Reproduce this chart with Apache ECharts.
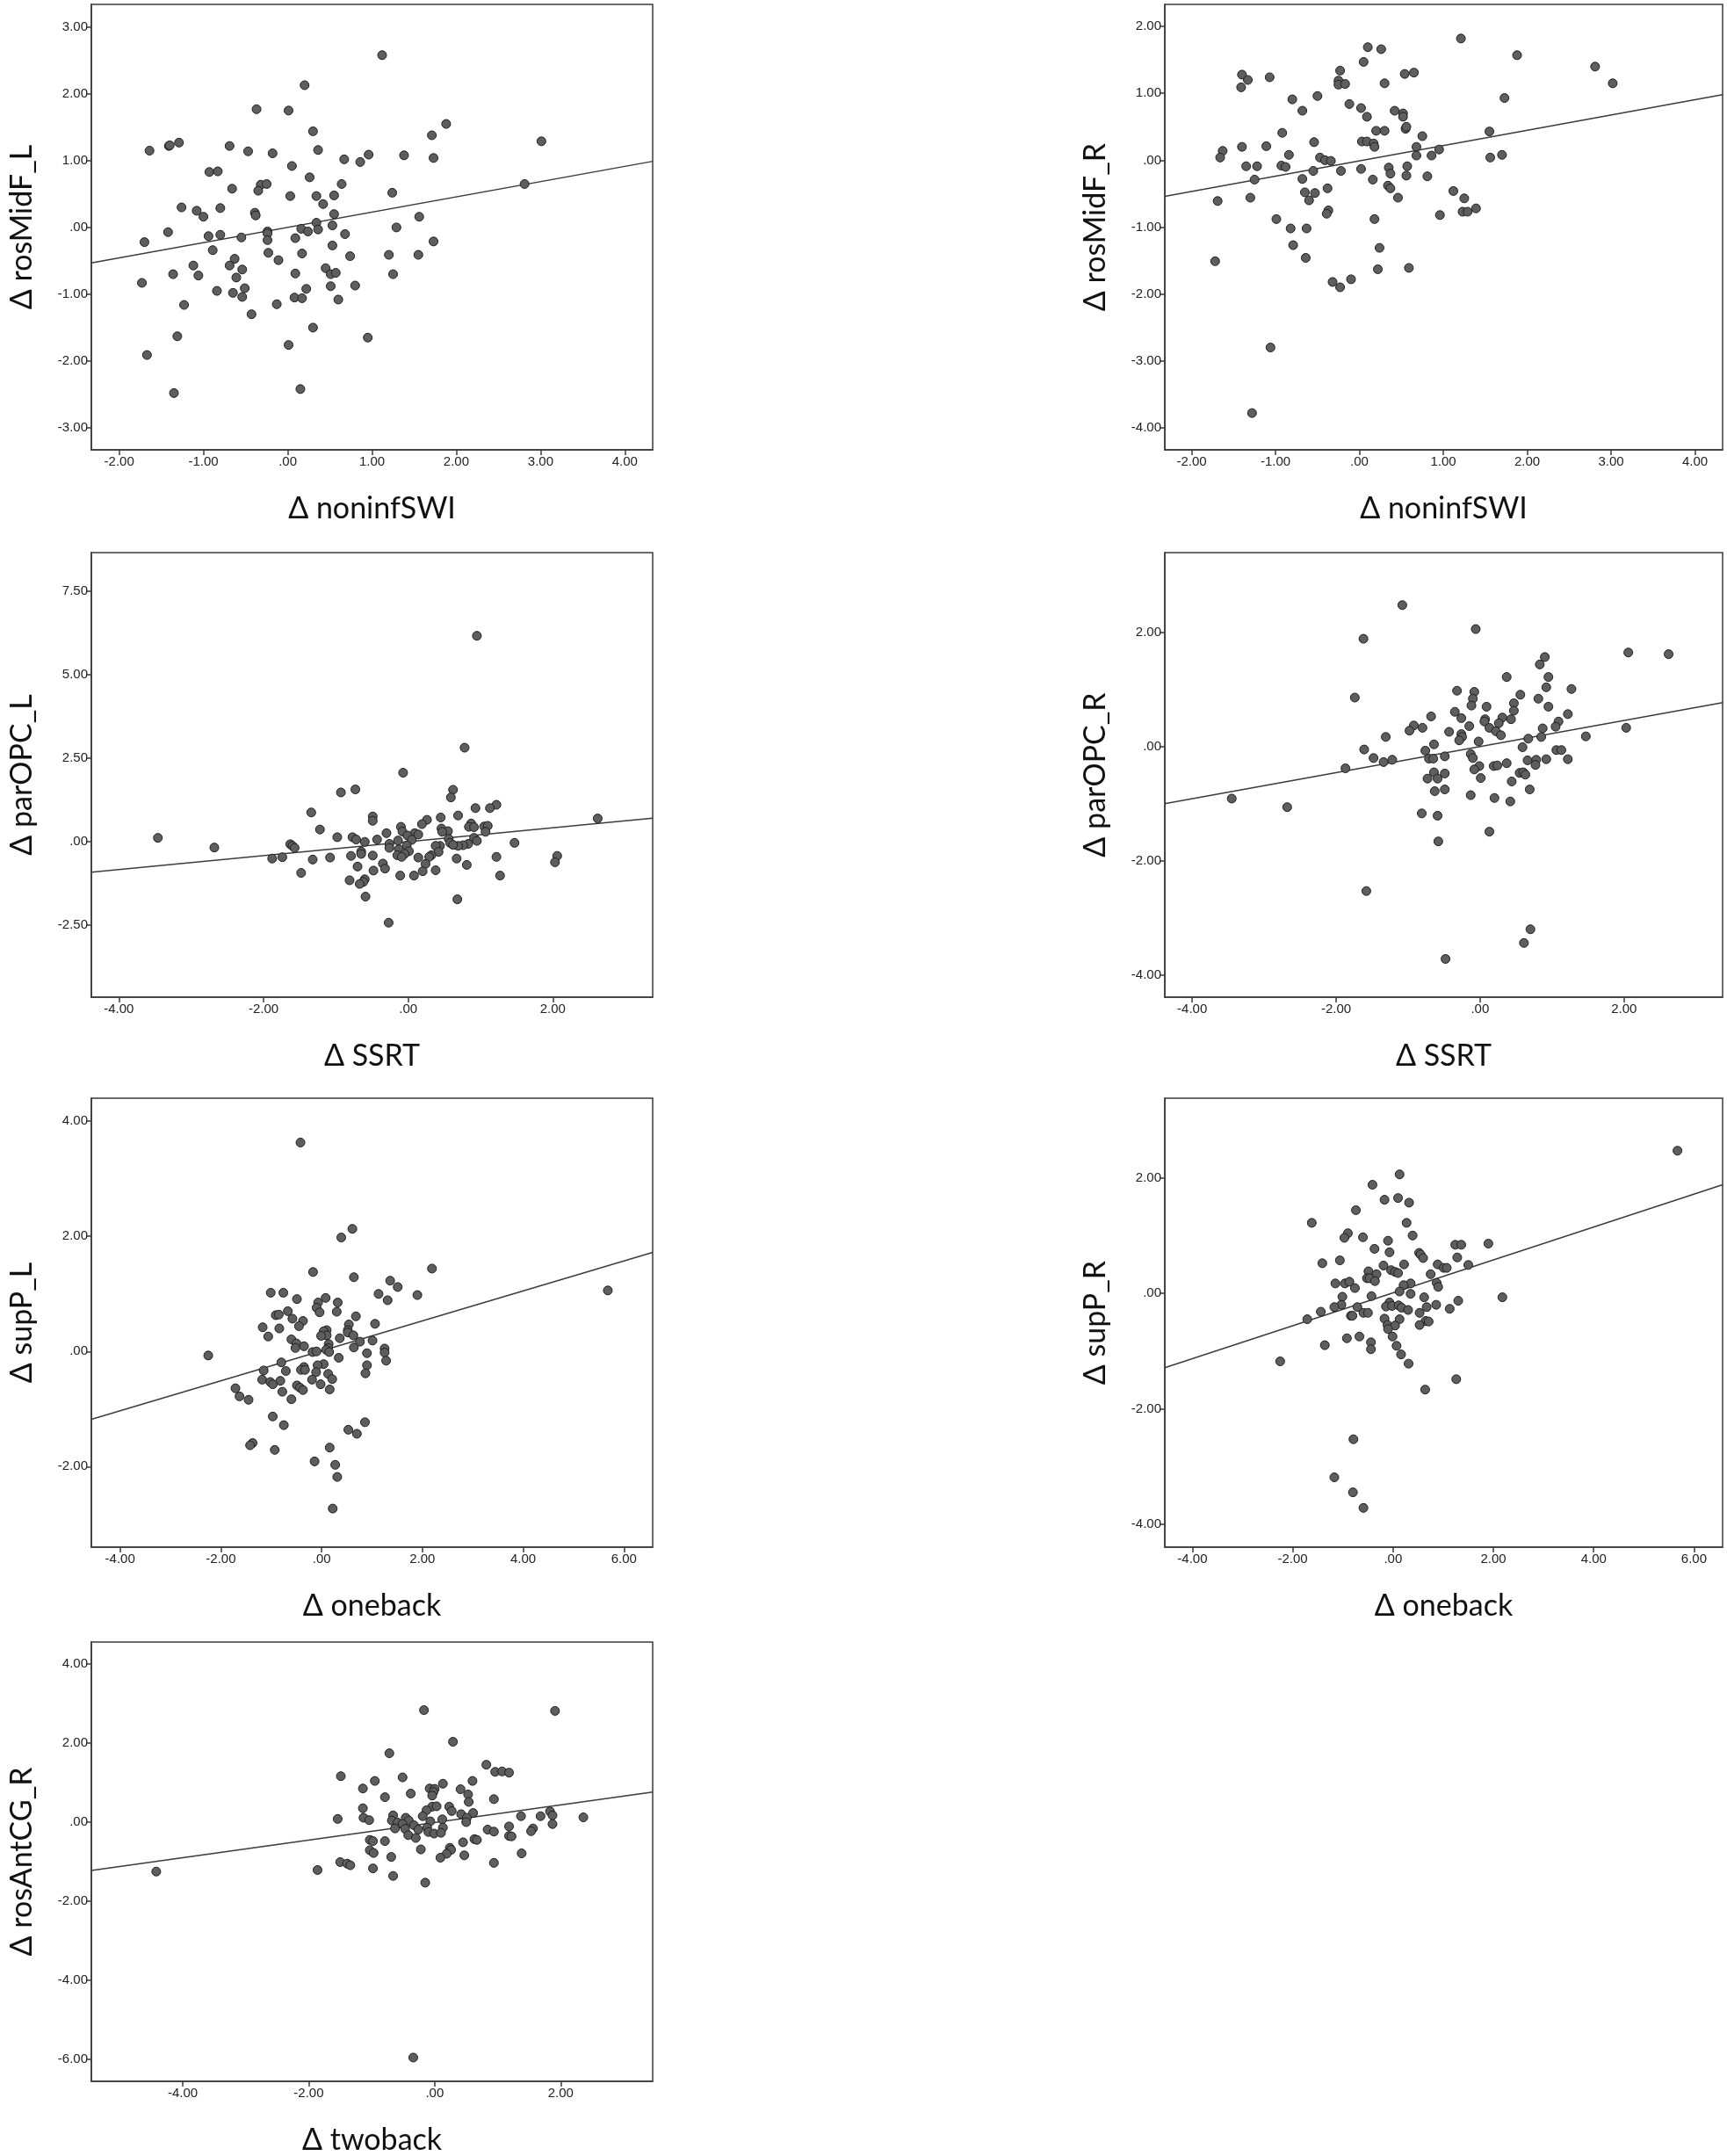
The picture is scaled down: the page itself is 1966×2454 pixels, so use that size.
<!DOCTYPE html>
<html>
<head>
<meta charset="utf-8">
<script src="https://cdn.jsdelivr.net/npm/echarts@6/dist/echarts.min.js"></script>
<style>
html,body{margin:0;padding:0;background:#fff;}
#c{position:absolute;left:0;top:0;width:1966px;height:2454px;}
</style>
</head>
<body>
<div id="c"></div>
<script>
// ---------- data ----------
const noninfSWI_rosMidF_L = [[1.12,2.58],[0.20,2.13],[-0.37,1.77],[0.01,1.75],[1.88,1.55],[1.71,1.38],[0.30,1.44],[3.01,1.29],[-1.29,1.27],[-1.41,1.22],[-1.40,1.23],[-0.69,1.22],[-1.64,1.15],[-0.47,1.14],[0.36,1.16],[-0.18,1.11],[0.96,1.09],[1.38,1.08],[0.67,1.02],[1.73,1.04],[0.86,0.98],[0.05,0.92],[-0.93,0.83],[-0.83,0.84],[0.26,0.75],[0.64,0.65],[-0.32,0.64],[-0.25,0.65],[-0.66,0.58],[-0.35,0.55],[2.81,0.65],[1.24,0.52],[0.03,0.47],[0.34,0.47],[0.55,0.48],[0.42,0.35],[-1.26,0.30],[-0.80,0.29],[-1.08,0.25],[-1.00,0.16],[-0.39,0.22],[-0.38,0.18],[0.55,0.20],[1.56,0.16],[0.34,0.07],[0.53,0.03],[1.29,0.00],[0.16,-0.02],[0.36,-0.03],[0.24,-0.06],[-0.24,-0.06],[-0.24,-0.09],[-1.42,-0.07],[-1.70,-0.22],[-0.94,-0.13],[-0.80,-0.11],[-0.55,-0.15],[0.09,-0.16],[0.68,-0.10],[-0.24,-0.19],[1.73,-0.21],[0.53,-0.27],[0.17,-0.39],[-0.23,-0.38],[-0.89,-0.34],[0.74,-0.43],[1.20,-0.41],[1.55,-0.41],[-0.63,-0.47],[-0.11,-0.49],[-1.12,-0.57],[-0.69,-0.57],[-0.54,-0.63],[0.45,-0.61],[0.09,-0.69],[0.51,-0.70],[0.57,-0.68],[-1.36,-0.70],[-1.06,-0.72],[1.25,-0.70],[-0.61,-0.75],[-1.73,-0.83],[0.51,-0.88],[0.80,-0.87],[-0.84,-0.95],[-0.51,-0.91],[0.22,-0.92],[-0.65,-0.98],[-0.54,-1.04],[0.08,-1.05],[0.17,-1.06],[0.60,-1.08],[-1.23,-1.16],[-0.13,-1.15],[-0.43,-1.30],[0.30,-1.50],[-1.31,-1.63],[0.95,-1.65],[0.01,-1.76],[-1.67,-1.91],[0.15,-2.42],[-1.35,-2.48]];
const fit_rosMidF_L = [[-2.33,-0.53],[4.33,0.99]];

const noninfSWI_rosMidF_R = [[1.21,1.82],[0.10,1.69],[0.26,1.66],[1.88,1.57],[0.05,1.47],[2.81,1.40],[-0.23,1.34],[0.65,1.31],[0.54,1.29],[-1.40,1.28],[-1.07,1.24],[-1.33,1.20],[-0.25,1.19],[-0.25,1.13],[-0.17,1.14],[0.30,1.15],[3.02,1.15],[-1.41,1.09],[-0.50,0.96],[1.73,0.93],[-0.80,0.91],[-0.12,0.84],[0.02,0.78],[-0.68,0.74],[0.42,0.74],[0.52,0.70],[0.52,0.65],[0.09,0.65],[0.55,0.47],[0.56,0.50],[0.20,0.44],[0.30,0.44],[1.55,0.43],[-0.92,0.41],[0.75,0.36],[-0.54,0.27],[0.03,0.28],[0.09,0.28],[0.17,0.25],[0.18,0.20],[-1.40,0.20],[-1.11,0.21],[-1.63,0.14],[0.68,0.20],[0.95,0.16],[-0.84,0.08],[-1.66,0.04],[-0.47,0.04],[0.68,0.07],[0.86,0.07],[1.70,0.08],[1.56,0.04],[-0.41,0.00],[-0.34,-0.01],[-1.35,-0.09],[-1.22,-0.09],[-0.93,-0.08],[-0.88,-0.10],[0.35,-0.11],[0.57,-0.09],[-0.55,-0.16],[-0.22,-0.16],[0.02,-0.13],[0.37,-0.20],[0.56,-0.23],[0.81,-0.24],[-1.25,-0.29],[-0.68,-0.28],[0.16,-0.29],[0.34,-0.38],[0.37,-0.42],[-0.38,-0.42],[1.12,-0.46],[-0.65,-0.48],[-0.53,-0.49],[-1.30,-0.56],[0.46,-0.56],[1.25,-0.57],[-1.69,-0.61],[-0.60,-0.60],[1.39,-0.72],[-0.37,-0.75],[-0.39,-0.80],[1.23,-0.77],[1.29,-0.77],[0.96,-0.82],[-0.99,-0.88],[0.18,-0.88],[-0.82,-1.02],[-0.63,-1.02],[-0.79,-1.27],[0.24,-1.31],[-0.64,-1.46],[-1.72,-1.51],[0.22,-1.63],[0.59,-1.61],[-0.32,-1.82],[-0.10,-1.78],[-0.23,-1.90],[-1.06,-2.80],[-1.28,-3.78]];
const fit_rosMidF_R = [[-2.32,-0.54],[4.33,0.98]];

const SSRT_parOPC_L = [[0.95,6.16],[0.78,2.81],[-0.07,2.06],[-0.73,1.56],[-0.93,1.47],[0.62,1.55],[0.59,1.32],[1.22,1.10],[1.13,1.00],[0.93,1.00],[-1.34,0.87],[0.69,0.78],[-0.49,0.75],[-0.49,0.62],[0.45,0.72],[0.26,0.65],[0.19,0.52],[0.87,0.54],[0.84,0.44],[0.91,0.43],[1.05,0.45],[1.10,0.47],[-0.10,0.44],[0.46,0.39],[-1.22,0.36],[-0.08,0.30],[0.55,0.31],[0.47,0.29],[1.07,0.29],[-0.30,0.25],[0.09,0.25],[0.14,0.21],[-0.01,0.18],[-0.98,0.13],[-0.77,0.13],[-0.72,0.06],[-3.46,0.11],[-0.43,0.06],[-0.14,0.03],[0.05,0.05],[0.56,0.08],[0.91,0.11],[-0.60,-0.01],[0.95,0.02],[0.58,-0.04],[-1.63,-0.08],[-1.60,-0.13],[1.47,-0.04],[0.83,-0.07],[0.76,-0.11],[0.69,-0.13],[0.62,-0.10],[0.44,-0.13],[0.38,-0.13],[-0.02,-0.12],[-0.26,-0.07],[-0.26,-0.19],[-2.68,-0.18],[-1.57,-0.19],[-0.13,-0.23],[0.01,-0.29],[-0.65,-0.30],[-0.65,-0.37],[0.42,-0.31],[-0.05,-0.37],[-0.15,-0.41],[-0.09,-0.46],[-0.79,-0.43],[-0.49,-0.42],[0.32,-0.41],[0.29,-0.46],[0.14,-0.48],[1.22,-0.46],[2.06,-0.43],[2.03,-0.62],[-1.74,-0.47],[-1.88,-0.51],[-1.08,-0.48],[-1.32,-0.54],[0.67,-0.51],[-0.35,-0.66],[0.24,-0.67],[0.81,-0.70],[-0.70,-0.75],[-0.32,-0.81],[-0.48,-0.87],[0.20,-0.89],[0.38,-0.86],[-1.48,-0.94],[-0.11,-1.02],[0.08,-1.02],[1.27,-1.02],[-0.81,-1.16],[-0.60,-1.13],[-0.62,-1.21],[-0.67,-1.27],[-0.59,-1.65],[0.68,-1.73],[-0.27,-2.43],[2.62,0.69]];
const fit_parOPC_L = [[-4.38,-0.92],[3.38,0.70]];

const SSRT_parOPC_R = [[-1.08,2.48],[-0.06,2.06],[-1.62,1.89],[2.06,1.65],[2.62,1.62],[0.90,1.57],[0.83,1.44],[0.37,1.22],[0.95,1.22],[0.92,1.04],[1.27,1.01],[-0.32,0.98],[-0.08,0.96],[0.56,0.91],[-1.74,0.86],[-0.10,0.84],[0.81,0.84],[0.47,0.76],[-0.12,0.72],[0.09,0.70],[0.95,0.70],[0.47,0.63],[-0.35,0.61],[-0.68,0.53],[1.22,0.57],[-0.26,0.50],[0.31,0.51],[0.43,0.48],[0.07,0.48],[0.06,0.44],[1.09,0.44],[0.26,0.41],[-0.92,0.37],[-0.80,0.33],[-0.15,0.36],[1.05,0.35],[0.13,0.33],[0.87,0.32],[-0.98,0.28],[-0.43,0.26],[0.22,0.27],[0.29,0.20],[-0.26,0.22],[-0.25,0.17],[-0.29,0.11],[-1.31,0.17],[1.47,0.18],[0.67,0.14],[0.85,0.17],[-0.02,0.09],[-0.64,0.04],[0.59,-0.01],[-1.61,-0.05],[-0.76,-0.07],[-0.13,-0.13],[1.06,-0.06],[1.13,-0.06],[-0.49,-0.17],[-1.48,-0.20],[-0.71,-0.21],[-0.65,-0.21],[-0.10,-0.20],[-1.34,-0.27],[-1.22,-0.23],[0.66,-0.24],[0.78,-0.23],[0.92,-0.22],[1.22,-0.22],[0.37,-0.29],[0.19,-0.34],[0.24,-0.33],[-0.01,-0.34],[0.77,-0.32],[-1.87,-0.38],[-0.08,-0.40],[-0.64,-0.45],[-0.49,-0.47],[0.55,-0.46],[0.60,-0.45],[0.63,-0.49],[0.01,-0.55],[-0.73,-0.56],[-0.59,-0.56],[0.44,-0.61],[0.69,-0.75],[-0.49,-0.75],[-0.63,-0.78],[-0.13,-0.85],[0.20,-0.90],[0.42,-0.96],[-3.45,-0.91],[-2.68,-1.06],[-0.81,-1.17],[-0.59,-1.21],[0.13,-1.49],[-0.58,-1.66],[2.03,0.33],[-1.58,-2.53],[0.70,-3.20],[0.61,-3.44],[-0.48,-3.72]];
const fit_parOPC_R = [[-4.38,-1.00],[3.37,0.77]];

const oneback_supP_L = [[-0.42,3.63],[0.61,2.13],[0.39,1.98],[2.19,1.44],[-0.17,1.38],[0.64,1.29],[1.36,1.23],[1.51,1.12],[5.68,1.06],[-1.01,1.02],[-0.76,1.02],[1.13,1.00],[1.90,0.98],[0.08,0.93],[-0.49,0.91],[1.31,0.89],[0.32,0.85],[-0.07,0.85],[-0.10,0.76],[-0.67,0.70],[0.30,0.69],[-0.04,0.68],[-0.91,0.63],[-0.85,0.64],[0.68,0.61],[-0.58,0.57],[-0.37,0.53],[0.54,0.47],[1.06,0.48],[-0.45,0.44],[-1.17,0.42],[-0.84,0.40],[0.52,0.37],[0.10,0.37],[0.04,0.35],[0.52,0.33],[0.63,0.28],[0.10,0.28],[-0.01,0.27],[-1.06,0.26],[0.36,0.23],[-0.60,0.21],[1.01,0.19],[0.76,0.17],[-0.50,0.14],[0.14,0.13],[-0.35,0.09],[-0.52,0.06],[0.64,0.07],[0.13,0.06],[1.25,0.05],[0.09,0.03],[-0.18,-0.01],[-0.10,0.00],[0.15,-0.01],[1.25,-0.02],[0.90,-0.03],[-2.25,-0.07],[0.34,-0.11],[1.28,-0.16],[-0.80,-0.19],[0.04,-0.22],[-0.08,-0.24],[0.90,-0.24],[-0.35,-0.27],[-0.41,-0.32],[-0.33,-0.32],[-1.15,-0.33],[-0.71,-0.34],[-0.11,-0.36],[0.87,-0.38],[0.13,-0.39],[0.21,-0.48],[-0.19,-0.49],[-1.18,-0.49],[-1.02,-0.53],[-0.82,-0.51],[-0.97,-0.57],[-0.02,-0.57],[-0.49,-0.59],[-0.43,-0.63],[-0.37,-0.67],[0.16,-0.66],[-1.71,-0.64],[-0.78,-0.70],[-1.63,-0.78],[-1.45,-0.84],[-0.60,-0.83],[-0.97,-1.13],[-0.75,-1.28],[0.86,-1.23],[0.53,-1.36],[0.70,-1.43],[-1.37,-1.59],[-1.42,-1.63],[-0.93,-1.71],[0.16,-1.67],[-0.14,-1.91],[0.27,-1.97],[0.31,-2.18],[0.22,-2.73]];
const fit_supP_L = [[-4.57,-1.18],[6.57,1.72]];

const oneback_supP_R = [[5.67,2.47],[0.13,2.06],[-0.41,1.88],[-0.17,1.62],[0.10,1.65],[0.32,1.57],[-0.74,1.44],[-1.62,1.22],[0.27,1.22],[-0.90,1.04],[0.39,1.00],[-0.97,0.96],[-0.60,0.97],[-0.10,0.91],[1.90,0.86],[1.24,0.84],[1.36,0.84],[-0.37,0.77],[-0.07,0.71],[0.52,0.70],[0.55,0.67],[0.60,0.61],[1.28,0.62],[-1.06,0.57],[-1.41,0.52],[-0.19,0.48],[0.22,0.50],[0.89,0.50],[1.50,0.49],[1.01,0.44],[1.07,0.44],[-0.04,0.40],[0.04,0.37],[0.10,0.35],[-0.49,0.38],[-0.33,0.33],[-0.52,0.26],[-0.47,0.26],[0.75,0.33],[-0.36,0.21],[-1.15,0.17],[-0.96,0.17],[-0.87,0.20],[0.35,0.17],[0.87,0.18],[0.21,0.14],[0.90,0.11],[-0.76,0.09],[0.13,0.03],[0.35,-0.01],[-1.01,-0.06],[-0.43,-0.05],[0.62,-0.07],[2.18,-0.07],[1.30,-0.13],[-0.07,-0.16],[-1.03,-0.20],[-1.17,-0.24],[-0.71,-0.24],[-0.14,-0.23],[-0.02,-0.22],[0.11,-0.21],[0.17,-0.25],[0.86,-0.20],[0.30,-0.29],[1.13,-0.27],[0.67,-0.24],[-1.44,-0.32],[-0.59,-0.34],[-0.50,-0.34],[0.53,-0.34],[-0.84,-0.39],[-0.81,-0.39],[-1.71,-0.45],[-0.17,-0.44],[0.13,-0.45],[0.65,-0.48],[0.71,-0.49],[-0.11,-0.55],[0.04,-0.56],[0.53,-0.55],[-0.10,-0.62],[-0.01,-0.75],[-0.92,-0.78],[-0.67,-0.75],[-0.44,-0.85],[-1.36,-0.90],[0.07,-0.91],[-0.44,-0.97],[0.16,-1.06],[-2.25,-1.18],[0.31,-1.22],[1.26,-1.49],[0.64,-1.67],[-0.79,-2.53],[-1.17,-3.19],[-0.80,-3.45],[-0.59,-3.72]];
const fit_supP_R = [[-4.55,-1.29],[6.57,1.88]];

const twoback_rosAntCG_R = [[-0.17,2.83],[1.91,2.81],[0.29,2.03],[-0.72,1.74],[0.82,1.45],[0.96,1.27],[1.07,1.28],[1.18,1.25],[-1.49,1.16],[-0.51,1.13],[-0.95,1.04],[0.60,1.04],[0.13,0.97],[-1.14,0.85],[-0.08,0.85],[0.00,0.84],[0.41,0.83],[-0.02,0.76],[-0.04,0.67],[-0.38,0.72],[0.53,0.70],[-0.79,0.63],[0.94,0.58],[0.54,0.51],[-0.04,0.39],[0.03,0.40],[0.23,0.39],[-1.14,0.35],[-0.13,0.30],[0.27,0.28],[0.42,0.20],[0.61,0.23],[-0.66,0.17],[-0.19,0.15],[1.37,0.15],[1.68,0.15],[1.83,0.27],[1.87,0.17],[2.36,0.12],[-1.54,0.08],[-1.13,0.11],[-1.04,0.05],[-0.46,0.11],[-0.68,0.04],[-0.41,0.04],[0.12,0.07],[0.51,0.11],[-0.59,-0.01],[-0.51,-0.05],[-0.07,0.02],[0.50,0.00],[-0.33,-0.08],[1.87,-0.05],[1.18,-0.11],[-0.63,-0.16],[-0.47,-0.17],[-0.12,-0.14],[-0.26,-0.19],[0.13,-0.14],[0.84,-0.19],[0.94,-0.24],[1.56,-0.16],[1.53,-0.23],[-0.10,-0.25],[-0.01,-0.29],[0.10,-0.27],[-0.42,-0.33],[-0.30,-0.40],[1.18,-0.35],[1.22,-0.36],[-1.03,-0.45],[-0.98,-0.48],[-0.79,-0.48],[0.63,-0.43],[0.67,-0.45],[0.45,-0.51],[-0.22,-0.69],[0.24,-0.65],[0.26,-0.70],[-1.03,-0.71],[-0.97,-0.78],[1.38,-0.79],[0.19,-0.80],[0.47,-0.84],[-0.69,-0.88],[0.09,-0.90],[-1.50,-1.01],[-1.39,-1.05],[-1.34,-1.09],[0.94,-1.03],[-1.86,-1.21],[-0.98,-1.17],[-4.42,-1.25],[-0.66,-1.36],[-0.15,-1.53],[-0.34,-5.95]];
const fit_rosAntCG_R = [[-5.45,-1.22],[3.46,0.76]];

// tick values
const ticks_noninfSWI = [-2,-1,0,1,2,3,4];
const ticks_rosMidF_L = [-3,-2,-1,0,1,2,3];
const ticks_rosMidF_R = [-4,-3,-2,-1,0,1,2];
const ticks_SSRT = [-4,-2,0,2];
const ticks_parOPC_L = [-2.5,0,2.5,5,7.5];
const ticks_parOPC_R = [-4,-2,0,2];
const ticks_oneback = [-4,-2,0,2,4,6];
const ticks_supP = [-4,-2,0,2,4];
const ticks_supP_R = [-4,-2,0,2];
const ticks_twoback = [-4,-2,0,2];
const ticks_rosAntCG_R = [-6,-4,-2,0,2,4];

// axis names
const xNames = ['Δ noninfSWI','Δ noninfSWI','Δ SSRT','Δ SSRT','Δ oneback','Δ oneback','Δ twoback'];
const yNames = ['Δ rosMidF_L','Δ rosMidF_R','Δ parOPC_L','Δ parOPC_R','Δ supP_L','Δ supP_R','Δ rosAntCG_R'];

// ---------- layout / panels ----------
const panels = [
  {pts: noninfSWI_rosMidF_L, fit: fit_rosMidF_L, xr:[-2.33,4.33], yr:[-3.33,3.34], xt: ticks_noninfSWI, yt: ticks_rosMidF_L, g:{left:104, top:5, width:639, height:507}},
  {pts: noninfSWI_rosMidF_R, fit: fit_rosMidF_R, xr:[-2.32,4.33], yr:[-4.33,2.33], xt: ticks_noninfSWI, yt: ticks_rosMidF_R, g:{left:1326, top:5, width:635, height:507}},
  {pts: SSRT_parOPC_L, fit: fit_parOPC_L, xr:[-4.38,3.38], yr:[-4.66,8.65], xt: ticks_SSRT, yt: ticks_parOPC_L, g:{left:104, top:629, width:639, height:506}},
  {pts: SSRT_parOPC_R, fit: fit_parOPC_R, xr:[-4.38,3.37], yr:[-4.39,3.4], xt: ticks_SSRT, yt: ticks_parOPC_R, g:{left:1326, top:629, width:635, height:506}},
  {pts: oneback_supP_L, fit: fit_supP_L, xr:[-4.57,6.57], yr:[-3.4,4.4], xt: ticks_oneback, yt: ticks_supP, g:{left:104, top:1250, width:639, height:511}},
  {pts: oneback_supP_R, fit: fit_supP_R, xr:[-4.55,6.57], yr:[-4.4,3.38], xt: ticks_oneback, yt: ticks_supP_R, g:{left:1326, top:1250, width:635, height:511}},
  {pts: twoback_rosAntCG_R, fit: fit_rosAntCG_R, xr:[-5.45,3.46], yr:[-6.55,4.55], xt: ticks_twoback, yt: ticks_rosAntCG_R, g:{left:104, top:1869, width:639, height:510}}
];

const fmt = v => (Math.abs(v) < 1e-9 ? '.00' : v.toFixed(2));
const tickFont = {fontFamily:"'Liberation Sans Narrow','Liberation Sans',Arial,sans-serif", fontSize:15, color:'#222'};
const nameFont = {fontFamily:"Lato,'Open Sans',sans-serif", fontSize:34, color:'#111'};
const boxColor = '#3a3a3a';

const grid = [], xAxis = [], yAxis = [], series = [];
panels.forEach((p, i) => {
  grid.push(Object.assign({show:true, borderColor:boxColor, borderWidth:1.5, backgroundColor:'#fff', containLabel:false}, p.g));
  xAxis.push({
    type:'value', gridIndex:i, min:p.xr[0], max:p.xr[1],
    name: xNames[i], nameLocation:'middle', nameGap:50, nameTextStyle: nameFont,
    axisLine:{show:true, onZero:false, lineStyle:{color:boxColor, width:1.5}},
    axisTick:{show:true, inside:false, length:6, customValues:p.xt, lineStyle:{color:boxColor, width:1.5}},
    axisLabel:{show:true, customValues:p.xt, formatter:fmt, margin:6, ...tickFont},
    splitLine:{show:false}
  });
  yAxis.push({
    type:'value', gridIndex:i, min:p.yr[0], max:p.yr[1],
    name: yNames[i], nameLocation:'middle', nameGap:62, nameRotate:90, nameTextStyle: nameFont,
    axisLine:{show:true, onZero:false, lineStyle:{color:boxColor, width:1.5}},
    axisTick:{show:true, inside:false, length:6, customValues:p.yt, lineStyle:{color:boxColor, width:1.5}},
    axisLabel:{show:true, customValues:p.yt, formatter:fmt, margin:4, ...tickFont},
    splitLine:{show:false}
  });
  series.push({
    type:'line', xAxisIndex:i, yAxisIndex:i, data:p.fit, symbol:'none', silent:true,
    lineStyle:{color:'#3c3c3c', width:1.5}, z:2
  });
  series.push({
    type:'scatter', xAxisIndex:i, yAxisIndex:i, data:p.pts, symbol:'circle', symbolSize:10,
    itemStyle:{color:'#5e5e5e', borderColor:'#1e1e1e', borderWidth:1, opacity:1}, z:3
  });
});

const chart = echarts.init(document.getElementById('c'), null, {renderer:'canvas'});
chart.setOption({animation:false, backgroundColor:'#fff', grid, xAxis, yAxis, series});
</script>
</body>
</html>
